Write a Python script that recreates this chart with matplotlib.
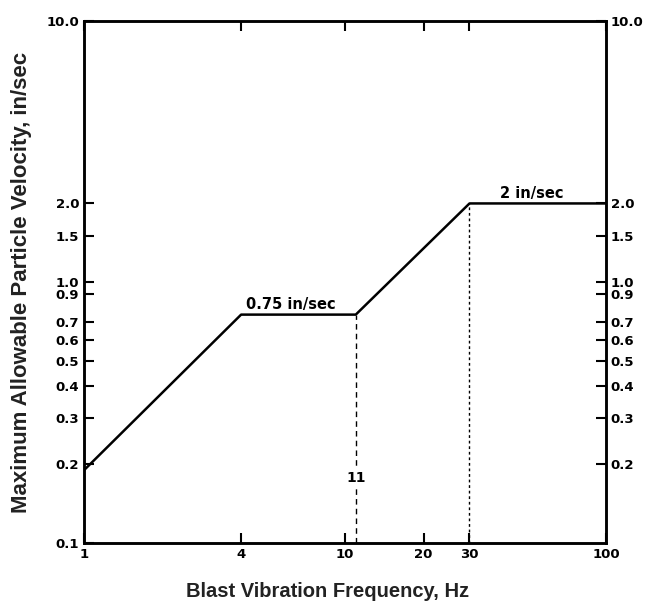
import numpy as np
import matplotlib.pyplot as plt
from matplotlib.ticker import FixedLocator, NullLocator

plt.rcParams['font.family'] = ['Liberation Sans', 'DejaVu Sans']

# Datos (criterio de vibración)
freq = [1, 4, 11, 30, 100]
vel = [0.19, 0.75, 0.75, 2.0, 2.0]

y_ticks = [0.1, 0.2, 0.3, 0.4, 0.5, 0.6, 0.7, 0.9, 1.0, 1.5, 2.0, 10.0]
y_labels = ['0.1', '0.2', '0.3', '0.4', '0.5', '0.6', '0.7', '0.9', '1.0', '1.5', '2.0', '10.0']
y_ticks_right = [0.2, 0.3, 0.4, 0.5, 0.6, 0.7, 0.9, 1.0, 1.5, 2.0, 10.0]
y_labels_right = ['0.2', '0.3', '0.4', '0.5', '0.6', '0.7', '0.9', '1.0', '1.5', '2.0', '10.0']
x_ticks = [1, 4, 10, 20, 30, 100]
x_labels = ['1', '4', '10', '20', '30', '100']

tick_font = dict(family='DejaVu Sans', weight='bold', size=9.5)

fig = plt.figure(figsize=(6.52, 6.04), dpi=100)
ax = fig.add_axes([0.1288, 0.1010, 0.8006, 0.8642])

ax.plot(freq, vel, color='black', lw=1.8)
# líneas verticales punteadas
ax.plot([11, 11], [0.1, 0.75], color='black', lw=1.0, ls=(0, (4, 3)))
ax.plot([30, 30], [0.1, 2.0], color='black', lw=1.0, ls=(0, (2, 2)))

ax.set_xscale('log')
ax.set_yscale('log')
ax.set_xlim(1, 100)
ax.set_ylim(0.1, 10)

ax.xaxis.set_major_locator(FixedLocator(x_ticks))
ax.xaxis.set_minor_locator(NullLocator())
ax.set_xticklabels(x_labels, fontdict=tick_font)
ax.yaxis.set_major_locator(FixedLocator(y_ticks))
ax.yaxis.set_minor_locator(NullLocator())
ax.set_yticklabels(y_labels, fontdict=tick_font)

ax.tick_params(axis='both', direction='in', length=7, width=1.5, top=True)

ax2 = ax.twinx()
ax2.set_yscale('log')
ax2.set_ylim(0.1, 10)
ax2.yaxis.set_major_locator(FixedLocator(y_ticks_right))
ax2.yaxis.set_minor_locator(NullLocator())
ax2.set_yticklabels(y_labels_right, fontdict=tick_font)
ax2.tick_params(axis='y', direction='in', length=7, width=1.5)

for a in (ax, ax2):
    for s in a.spines.values():
        s.set_linewidth(1.8)

ax.text(6.2, 0.77, '0.75 in/sec', ha='center', va='bottom',
        family='DejaVu Sans', fontsize=10.5, fontweight='bold')
ax.text(52, 2.05, '2 in/sec', ha='center', va='bottom',
        family='DejaVu Sans', fontsize=10.5, fontweight='bold')
ax.text(11, 0.178, '11', ha='center', va='center', family='DejaVu Sans',
        fontsize=10, fontweight='bold',
        bbox=dict(facecolor='white', edgecolor='none', pad=1))

ax.set_xlabel('Blast Vibration Frequency, Hz', fontsize=14.5, fontweight='bold',
              color='#222222')
ax.xaxis.set_label_coords(0.466, -0.074)
ax.set_ylabel('Maximum Allowable Particle Velocity, in/sec', fontsize=16,
              fontweight='bold', color='#222222', labelpad=10)

fig.savefig('out.png', dpi=100)
